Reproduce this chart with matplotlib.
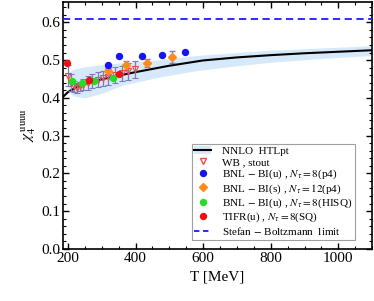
import numpy as np
import matplotlib
matplotlib.use("Agg")
import matplotlib.pyplot as plt
from matplotlib.ticker import MultipleLocator
from matplotlib.lines import Line2D
from matplotlib.patches import Patch

plt.rcParams['font.family'] = ['Liberation Serif', 'DejaVu Serif']
plt.rcParams['mathtext.fontset'] = 'stix'

# NNLO HTLpt central curve and band
T_curve = [185, 200, 225, 250, 300, 350, 400, 500, 600, 700, 800, 900, 1000, 1100]
chi_curve = [0.402, 0.415, 0.428, 0.437, 0.449, 0.459, 0.468, 0.485, 0.499, 0.507, 0.513, 0.518, 0.522, 0.526]
T_band = [200, 215, 250, 300, 360, 460, 580, 700, 800, 900, 1000, 1100]
band_lo = [0.420, 0.405, 0.400, 0.412, 0.433, 0.453, 0.472, 0.485, 0.494, 0.501, 0.507, 0.512]
band_hi = [0.465, 0.476, 0.482, 0.488, 0.493, 0.500, 0.512, 0.520, 0.526, 0.530, 0.534, 0.538]

# WB, stout
T_wb = [201, 210, 218, 226, 235, 245, 258, 272, 288, 303, 320, 340, 360, 378, 398]
chi_wb = [0.458, 0.440, 0.430, 0.425, 0.430, 0.435, 0.440, 0.444, 0.448, 0.452, 0.455, 0.460, 0.465, 0.470, 0.475]
err_wb = [0.028, 0.022, 0.015, 0.012, 0.012, 0.015, 0.018, 0.018, 0.020, 0.020, 0.020, 0.022, 0.020, 0.022, 0.022]

# BNL-BI(u), N_tau=8 (p4)
T_b1 = [318, 352, 420, 478, 545]
chi_b1 = [0.486, 0.511, 0.512, 0.513, 0.521]
# BNL-BI(s), N_tau=12 (p4)
T_b2 = [318, 372, 435, 507]
chi_b2 = [0.470, 0.486, 0.492, 0.508]
err_b2 = [0.010, 0.012, 0.010, 0.015]
# BNL-BI(u), N_tau=8 (HISQ)
T_b3 = [213, 243, 278, 334]
chi_b3 = [0.444, 0.439, 0.444, 0.453]
# TIFR(u), N_tau=8 (SQ)
T_tifr = [198, 263, 352]
chi_tifr = [0.491, 0.448, 0.462]

sb_limit = 6 / np.pi**2

fig = plt.figure(figsize=(3.74, 3.01), dpi=100)
ax = fig.add_axes([0.168, 0.173, 0.827, 0.822])

ax.fill_between(T_band, band_lo, band_hi, color='#d6e9fa', lw=0, zorder=1)
ax.plot(T_curve, chi_curve, color='black', lw=1.5, zorder=3)
ax.axhline(sb_limit, color='#1a1aff', lw=1.3, ls=(0, (4, 2.5)), zorder=3)

err_col = '#7c7cb8'
ax.errorbar(T_wb, chi_wb, yerr=err_wb, fmt='v', ms=4.2, mfc='none', mec='#f04848',
            mew=0.8, ecolor=err_col, elinewidth=0.9, capsize=2, zorder=4)
ax.errorbar(T_b2, chi_b2, yerr=err_b2, fmt='none', ecolor=err_col, elinewidth=0.9,
            capsize=2, zorder=4)
ms = 4.3
ax.plot(T_b3, chi_b3, 'o', color='#22dd22', ms=ms, zorder=5)
ax.plot(T_tifr, chi_tifr, 'o', color='#ee1111', ms=ms, zorder=5)
ax.plot(T_b2, chi_b2, 'D', color='#ff8c1a', ms=3.8, zorder=5)
ax.plot(T_b1, chi_b1, 'o', color='#1515ee', ms=ms, zorder=5)

ax.set_xlim(185, 1100)
ax.set_ylim(0.0, 0.655)
ax.xaxis.set_major_locator(MultipleLocator(200))
ax.xaxis.set_minor_locator(MultipleLocator(50))
ax.yaxis.set_major_locator(MultipleLocator(0.1))
ax.yaxis.set_minor_locator(MultipleLocator(0.02))
ax.yaxis.set_major_formatter(matplotlib.ticker.FormatStrFormatter('%.1f'))
ax.tick_params(which='both', direction='in', top=True, right=True, labelsize=11, pad=2)
ax.tick_params(which='major', length=4, width=1)
ax.tick_params(which='minor', length=2, width=0.8)
for s in ax.spines.values():
    s.set_linewidth(1.2)

ax.set_xlabel('T [MeV]', fontsize=11, labelpad=4)
ax.set_ylabel(r'$\chi_4^{\,\mathrm{uuuu}}$', fontsize=11, labelpad=2)

handles = [
    (Patch(color='#d6e9fa', lw=0), Line2D([], [], color='black', lw=1.5)),
    Line2D([], [], marker='v', ls='none', mfc='none', mec='#f04848', ms=4.5),
    Line2D([], [], marker='o', ls='none', color='#1515ee', ms=ms),
    Line2D([], [], marker='D', ls='none', color='#ff8c1a', ms=3.8),
    Line2D([], [], marker='o', ls='none', color='#22dd22', ms=ms),
    Line2D([], [], marker='o', ls='none', color='#ee1111', ms=ms),
    Line2D([], [], color='#1a1aff', lw=1.3, ls=(0, (3, 2))),
]
labels = [
    'NNLO  HTLpt',
    'WB , stout',
    r'BNL $-$ BI(u) , $N_\tau=8$(p4)',
    r'BNL $-$ BI(s) , $N_\tau=12$(p4)',
    r'BNL $-$ BI(u) , $N_\tau=8$(HISQ)',
    r'TIFR(u) , $N_\tau=8$(SQ)',
    r'Stefan $-$ Boltzmann  limit',
]
leg = ax.legend(handles, labels, loc='lower right', bbox_to_anchor=(0.945, 0.036),
                fontsize=8, frameon=True, fancybox=False, edgecolor='#888888',
                handlelength=1.5, handletextpad=1.0, labelspacing=0.08,
                borderpad=0.25, borderaxespad=0)
leg.get_frame().set_linewidth(0.8)

fig.savefig('out.png', dpi=100)
